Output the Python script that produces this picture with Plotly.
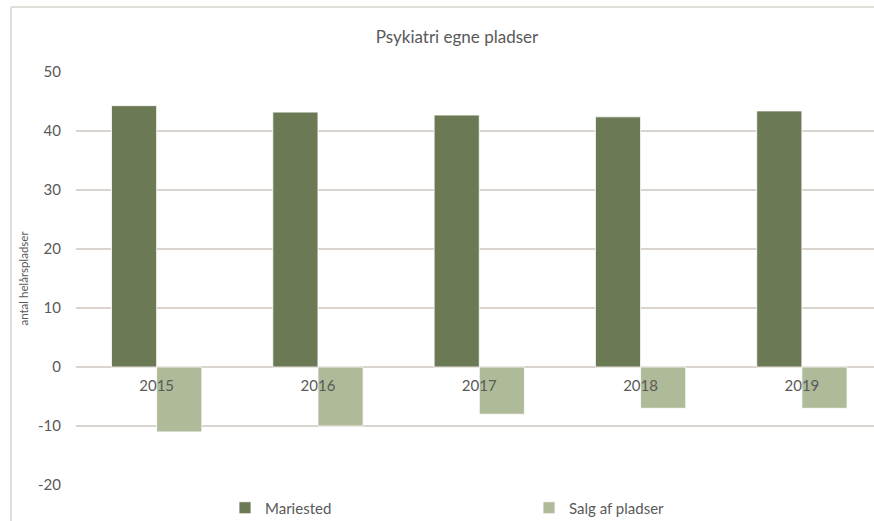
import plotly.graph_objects as go

years = ["2015", "2016", "2017", "2018", "2019"]
mariested = [44.3, 43.2, 42.7, 42.4, 43.4]
salg = [-11.0, -10.0, -8.0, -7.0, -7.0]
y_ticks = [-20, -10, 0, 10, 20, 30, 40, 50]
y_tick_text = [str(v) for v in y_ticks]

W, H = 874, 521
L, R, T, B = 76, 0, 72, 36
pw = W - L - R
ph = H - T - B

def px_x(p):
    return (p - L) / pw

def px_y(p):
    return (H - B - p) / ph

font_fam = "Lato, Open Sans, sans-serif"
txt = "#595959"
grid = "#D9D4CF"

fig = go.Figure()
fig.add_trace(go.Bar(x=years, y=mariested, name="Mariested",
                     marker=dict(color="#6B7A55", line=dict(color="#FFFFFF", width=0.8))))
fig.add_trace(go.Bar(x=years, y=salg, name="Salg af pladser",
                     marker=dict(color="#AFBB98", line=dict(color="#FFFFFF", width=0.8))))

fig.update_layout(
    width=W, height=H,
    margin=dict(l=L, r=R, t=T, b=B, autoexpand=False),
    paper_bgcolor="white", plot_bgcolor="white",
    barmode="group", bargap=0.44, bargroupgap=0,
    font=dict(family=font_fam, color=txt, size=15),
    title=dict(text="Psykiatri egne pladser", xref="container", x=457 / W, xanchor="center",
               yref="container", y=(H - 37) / H, yanchor="middle",
               font=dict(size=17, color=txt)),
    showlegend=True,
    legend=dict(orientation="h", x=px_x(225), xanchor="left", y=px_y(508), yanchor="middle",
                entrywidth=259, entrywidthmode="pixels", itemwidth=30,
                font=dict(size=15, color=txt), traceorder="normal"),
    xaxis=dict(type="category", range=[-0.5, 4.447], showgrid=False, showline=False,
               ticks="", anchor="free", position=20 / 70, ticklabelstandoff=8,
               tickfont=dict(size=15, color=txt), zeroline=False),
    yaxis=dict(range=[-20, 50], tickvals=y_ticks, ticktext=y_tick_text,
               showgrid=True, gridcolor=grid, gridwidth=1.8,
               zeroline=True, zerolinecolor=grid, zerolinewidth=1.8, showline=False,
               ticks="", ticklabelstandoff=14, tickfont=dict(size=15, color=txt),
               title=dict(text="antal helårspladser", font=dict(size=11.5, color=txt), standoff=6)),
)

# outer chart border (left and top edges visible)
fig.add_shape(type="line", xref="paper", yref="paper", x0=px_x(11), x1=px_x(11),
              y0=px_y(7), y1=px_y(530), line=dict(color="#D9D4CF", width=1.5), layer="below")
fig.add_shape(type="line", xref="paper", yref="paper", x0=px_x(11), x1=px_x(900),
              y0=px_y(7), y1=px_y(7), line=dict(color="#D9D4CF", width=1.5), layer="below")

fig.write_html(
    "out.html",
    config={"displayModeBar": False},
    post_script=(
        "document.documentElement.style.overflow='hidden';"
        "document.body.style.margin='0';"
        "document.body.style.overflow='hidden';"
        "var d=document.getElementById('{plot_id}');"
        "d.style.position='fixed';d.style.left='0px';d.style.top='0px';"
    ),
)
